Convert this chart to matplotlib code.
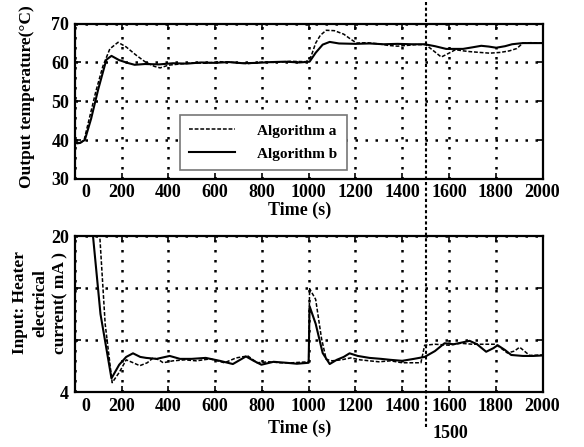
import matplotlib
matplotlib.use("Agg")
import matplotlib.pyplot as plt
import matplotlib.transforms as mtransforms
from matplotlib.lines import Line2D

plt.rcParams['font.family'] = ['Liberation Serif', 'DejaVu Serif']
plt.rcParams['font.weight'] = 'bold'

# output temperature, algorithm a (dashed)
t_temp_a = [0, 20, 40, 60, 90, 120, 150, 185, 220, 260, 300, 340, 365, 400, 450, 500, 560, 620, 680,
            740, 800, 860, 920, 990, 1010, 1030, 1050, 1075, 1110, 1150, 1180, 1205, 1250, 1300, 1340,
            1380, 1420, 1460, 1500, 1530, 1567, 1600, 1628, 1660, 1688, 1730, 1774, 1820, 1859, 1890,
            1916, 1950, 2000]
temp_a = [39.2, 39.0, 40.0, 45.0, 52.5, 59.0, 63.5, 65.2, 64.0, 62.0, 60.2, 59.0, 58.6, 59.3, 59.6,
          59.9, 59.8, 60.2, 60.0, 59.7, 60.1, 60.0, 60.3, 60.2, 61.5, 65.0, 67.0, 68.3, 68.2, 67.3, 66.0,
          65.0, 65.1, 64.8, 64.4, 64.2, 64.4, 64.6, 64.6, 63.2, 61.4, 62.4, 63.3, 63.0, 62.8, 62.6, 62.4,
          62.6, 63.0, 63.6, 65.0, 65.1, 65.0]

# output temperature, algorithm b (solid)
t_temp_b = [0, 20, 43, 70, 100, 135, 157, 190, 225, 256, 300, 360, 420, 480, 540, 600, 660, 720,
            780, 840, 900, 960, 1004, 1030, 1060, 1090, 1130, 1200, 1260, 1320, 1380, 1440, 1496,
            1540, 1588, 1620, 1660, 1700, 1738, 1770, 1802, 1840, 1870, 1916, 1960, 2000]
temp_b = [39.5, 39.2, 40.0, 45.5, 53.0, 60.7, 61.7, 60.6, 59.9, 59.4, 59.6, 59.5, 59.8, 59.7, 60.0,
          59.9, 60.1, 59.8, 59.9, 60.1, 60.2, 60.0, 60.2, 62.5, 64.6, 65.3, 64.9, 64.8, 64.9, 64.7,
          64.8, 64.7, 64.7, 64.2, 63.5, 63.5, 63.5, 63.9, 64.3, 64.1, 63.8, 64.2, 64.7, 65.0, 65.0, 65.0]

# heater current, algorithm a (dashed)
t_cur_a = [60, 107, 130, 160, 190, 220, 250, 278, 310, 335, 360, 378, 420, 470, 520, 580, 640, 690,
           740, 780, 830, 880, 930, 1000, 1004, 1030, 1055, 1075, 1100, 1140, 1180, 1220, 1260, 1300,
           1350, 1400, 1480, 1496, 1540, 1600, 1650, 1700, 1750, 1800, 1850, 1880, 1902, 1945, 2000]
cur_a = [26.0, 20.0, 11.0, 4.96, 6.0, 7.3, 7.0, 6.7, 7.0, 7.5, 7.3, 7.0, 7.2, 7.3, 7.2, 7.4, 7.0,
         7.5, 7.7, 7.0, 7.1, 7.0, 7.0, 7.1, 14.6, 13.5, 9.5, 7.35, 7.2, 7.3, 7.5, 7.3, 7.2, 7.1,
         7.2, 7.0, 7.0, 8.8, 8.9, 8.8, 9.0, 8.9, 8.9, 8.9, 8.0, 8.2, 8.6, 7.75, 7.8]

# heater current, algorithm b (solid)
t_cur_b = [40, 78, 110, 157, 190, 220, 249, 280, 305, 350, 406, 450, 500, 560, 620, 676, 732, 765,
           798, 850, 904, 950, 1000, 1004, 1030, 1060, 1090, 1120, 1150, 1175, 1210, 1260, 1310,
           1350, 1400, 1450, 1496, 1540, 1581, 1620, 1660, 1688, 1720, 1759, 1790, 1808, 1840,
           1866, 1916, 1960, 2000]
cur_b = [26.0, 20.0, 12.0, 5.4, 6.8, 7.6, 7.97, 7.6, 7.5, 7.4, 7.7, 7.4, 7.4, 7.5, 7.2, 6.87, 7.65,
         7.2, 6.8, 7.1, 7.0, 6.9, 7.0, 12.8, 11.0, 8.0, 6.87, 7.3, 7.6, 7.97, 7.7, 7.5, 7.4, 7.3,
         7.2, 7.4, 7.6, 8.2, 9.0, 8.9, 9.1, 9.25, 8.9, 8.13, 8.5, 8.8, 8.3, 7.8, 7.7, 7.7, 7.75]

x_ticks = [0, 200, 400, 600, 800, 1000, 1200, 1400, 1600, 1800, 2000]
temp_ticks = [30, 40, 50, 60, 70]
cur_ticks = [4, 4 + 16 / 3, 4 + 32 / 3, 20]
cur_tick_labels = ['4', '', '', '20']
marker_time = 1500

fig = plt.figure(figsize=(5.84, 4.47), dpi=100)
ax1 = fig.add_axes([0.128, 0.600, 0.801, 0.347])
ax2 = fig.add_axes([0.128, 0.123, 0.801, 0.349])

dash = (0, (2.5, 1.2))
ax1.plot(t_temp_a, temp_a, color='black', linestyle=dash, linewidth=1.1, label='Algorithm a')
ax1.plot(t_temp_b, temp_b, color='black', linestyle='-', linewidth=1.5, label='Algorithm b')
ax2.plot(t_cur_a, cur_a, color='black', linestyle=dash, linewidth=1.1)
ax2.plot(t_cur_b, cur_b, color='black', linestyle='-', linewidth=1.5)

ax1.set_ylim(30, 70)
ax1.set_yticks(temp_ticks)
ax2.set_ylim(4, 20)
ax2.set_yticks(cur_ticks)
ax2.set_yticklabels(cur_tick_labels)

for ax in (ax1, ax2):
    ax.set_xlim(0, 2000)
    ax.set_xticks(x_ticks)
    ax.grid(True, color='black', linestyle=(0, (1, 3)), linewidth=1.8)
    ax.tick_params(direction='in', top=True, right=True, length=4, width=1.2,
                   labelsize=13, pad=4)
    for sp in ax.spines.values():
        sp.set_linewidth(1.6)
    # shift the "0" label a little to the right like the original
    lbl = ax.get_xticklabels()[0]
    lbl.set_transform(lbl.get_transform() + mtransforms.ScaledTranslation(0.11, 0, fig.dpi_scale_trans))
    ax.set_xlabel('Time (s)', fontsize=13, fontweight='bold', labelpad=0)

ax1.xaxis.set_label_coords(0.48, -0.15)
ax2.xaxis.set_label_coords(0.48, -0.18)

ax1.set_ylabel('Output temperature(°C)', fontsize=12.5, fontweight='bold')
ax1.yaxis.set_label_coords(-0.085, 0.53)

# multi-line label of the lower panel, placed in figure coords
fig.text(40 / 584, 1 - 303 / 447, 'Input: Heater\nelectrical\ncurrent( mA )', rotation=90,
         ha='center', va='center', multialignment='center', fontsize=12.5, fontweight='bold',
         linespacing=1.35)

leg = ax1.legend(loc='lower left', bbox_to_anchor=(0.224, 0.058), borderaxespad=0,
                 fancybox=False, edgecolor='#777777', framealpha=1, handlelength=3.0,
                 handletextpad=1.5, labelspacing=0.6, borderpad=0.6, fontsize=11)
leg.get_frame().set_linewidth(1.2)

# vertical marker at t = 1500 spanning the whole figure
x_fig = fig.transFigure.inverted().transform(ax1.transData.transform((marker_time, 0)))[0]
fig.add_artist(Line2D([x_fig, x_fig], [0.045, 1.0], transform=fig.transFigure,
                      color='black', linestyle=(0, (1.5, 1.2)), linewidth=1.5))
fig.text(x_fig + 0.012, 0.02, str(marker_time), fontsize=13, fontweight='bold')

fig.savefig('out.png', dpi=100)
